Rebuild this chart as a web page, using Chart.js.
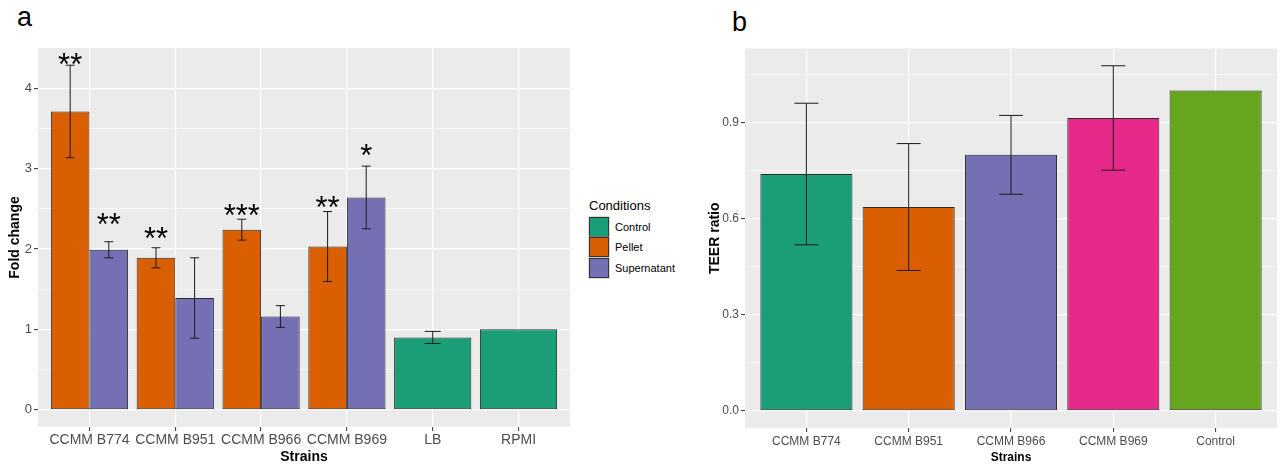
<!DOCTYPE html>
<html>
<head>
<meta charset="utf-8">
<script src="https://cdn.jsdelivr.net/npm/chart.js@4.4.1/dist/chart.umd.min.js"></script>
<style>
  body { margin: 0; background: #fff; }
  #wrap { position: relative; width: 1284px; height: 466px; font-family: "Liberation Sans", Arial, sans-serif; }
  .tag { position: absolute; font-size: 27px; line-height: 27px; color: #000; }
  #chartA { position: absolute; left: 0; top: 0; }
  #chartB { position: absolute; left: 700px; top: 0; }
  #legend { position: absolute; left: 589px; top: 199px; color: #000; }
  #legend .title { font-size: 13px; line-height: 13px; margin-bottom: 5px; }
  #legend .row { display: flex; align-items: center; height: 20.3px; }
  #legend .key { width: 18px; height: 18px; border: 1px solid #333; box-shadow: 0 0 0 0.5px #bbb; }
  #legend .lab { font-size: 11px; margin-left: 6px; }
</style>
</head>
<body>
<div id="wrap">
  <div class="tag" style="left:17px; top:4px;">a</div>
  <div class="tag" style="left:732px; top:9px;">b</div>
  <canvas id="chartA" width="580" height="466"></canvas>
  <div id="legend"></div>
  <canvas id="chartB" width="584" height="466"></canvas>
</div>
<script>
// panel a: fold change per strain
const strainsA = ['CCMM B774', 'CCMM B951', 'CCMM B966', 'CCMM B969', 'LB', 'RPMI'];
const pelletFold = [3.71, 1.89, 2.24, 2.03, null, null];
const pelletErr = [0.575, 0.125, 0.13, 0.435, null, null];
const supFold = [1.99, 1.39, 1.16, 2.64, null, null];
const supErr = [0.10, 0.50, 0.135, 0.39, null, null];
const controlFold = [null, null, null, null, 0.90, 1.00];
const controlErr = [null, null, null, null, 0.075, 0];
const pelletStars = ['**', '**', '***', '**', '', ''];
const pelletStarAt = [4.38, 2.22, 2.51, 2.61, null, null];
const supStars = ['**', '', '', '*', '', ''];
const supStarAt = [2.39, null, null, 3.25, null, null];
const foldTicks = [0, 1, 2, 3, 4];

const conditions = ['Control', 'Pellet', 'Supernatant'];
const conditionColors = ['#1B9E77', '#D95F02', '#7570B3'];

// panel b: TEER ratio
const strainsB = ['CCMM B774', 'CCMM B951', 'CCMM B966', 'CCMM B969', 'Control'];
const teerRatio = [0.739, 0.636, 0.799, 0.914, 1.0];
const teerErr = [0.221, 0.198, 0.123, 0.163, 0];
const teerColors = ['#1B9E77', '#D95F02', '#7570B3', '#E7298A', '#66A61E'];
const teerTicks = [0, 0.3, 0.6, 0.9];

Chart.defaults.font.family = '"Liberation Sans", Arial, sans-serif';

// grey panel like ggplot
const ggBackground = {
  id: 'ggBackground',
  beforeDraw(chart) {
    const { ctx, chartArea: a } = chart;
    ctx.save();
    ctx.fillStyle = '#EBEBEB';
    ctx.fillRect(a.left, a.top, a.right - a.left, a.bottom - a.top);
    ctx.restore();
  }
};

const errorBars = {
  id: 'errorBars',
  afterDatasetsDraw(chart, args, opts) {
    const { ctx } = chart;
    const y = chart.scales.y;
    chart.data.datasets.forEach((ds, i) => {
      if (!ds.errors) return;
      chart.getDatasetMeta(i).data.forEach((bar, j) => {
        const v = ds.data[j].y, e = ds.errors[j];
        if (v == null || !e) return;
        const hi = y.getPixelForValue(v + e);
        const lo = y.getPixelForValue(v - e);
        const half = Math.min(bar.width * opts.cap, opts.maxCap) / 2;
        ctx.save();
        ctx.strokeStyle = '#1a1a1a';
        ctx.lineWidth = 1;
        ctx.beginPath();
        ctx.moveTo(bar.x, hi); ctx.lineTo(bar.x, lo);
        ctx.moveTo(bar.x - half, hi); ctx.lineTo(bar.x + half, hi);
        ctx.moveTo(bar.x - half, lo); ctx.lineTo(bar.x + half, lo);
        ctx.stroke();
        ctx.restore();
      });
    });
  }
};

const starLabels = {
  id: 'starLabels',
  afterDatasetsDraw(chart) {
    const { ctx } = chart;
    const y = chart.scales.y;
    const size = 31;
    chart.data.datasets.forEach((ds, i) => {
      if (!ds.stars) return;
      chart.getDatasetMeta(i).data.forEach((bar, j) => {
        if (!ds.stars[j]) return;
        ctx.save();
        ctx.fillStyle = '#000';
        ctx.font = size + 'px "Liberation Sans", Arial, sans-serif';
        ctx.textAlign = 'center';
        ctx.textBaseline = 'alphabetic';
        ctx.fillText(ds.stars[j], bar.x, y.getPixelForValue(ds.starAt[j]) + size * 0.57);
        ctx.restore();
      });
    });
  }
};

// major ticks plus the half-way minor ones, clipped to range
function withMinor(major, lo, hi) {
  const step = major[1] - major[0];
  const out = [];
  major.forEach(m => { out.push(m); out.push(m + step / 2); });
  out.push(major[0] - step / 2);
  return out.filter(v => v >= lo && v <= hi).sort((a, b) => a - b);
}

function padRange(maxVal) {
  const pad = maxVal * 0.05;
  return [-pad, maxVal + pad];
}

function xyData(values) {
  return values.map((v, i) => ({ x: i, y: v }));
}

function axisOpts(cats, majors, yRange, cfg) {
  return {
    x: {
      type: 'linear',
      offset: false,
      min: -0.6,
      max: cats.length - 0.4,
      afterBuildTicks: s => { s.ticks = cats.map((c, i) => ({ value: i })); },
      afterFit: s => { s.height = cfg.xHeight; },
      border: { display: false },
      grid: { offset: false, color: '#fff', lineWidth: 1.2, tickColor: '#333', tickLength: 4, tickWidth: 1 },
      ticks: {
        autoSkip: false, maxRotation: 0, minRotation: 0, padding: cfg.xPad,
        color: '#4D4D4D', font: { size: cfg.xFont },
        callback: v => cats[v] ?? ''
      },
      title: {
        display: true, text: 'Strains', color: '#000',
        font: { size: cfg.xTitle, weight: 'bold' }, padding: { top: 0, bottom: cfg.xTitlePad }
      }
    },
    y: {
      min: yRange[0],
      max: yRange[1],
      afterBuildTicks: s => { s.ticks = withMinor(majors, yRange[0], yRange[1]).map(v => ({ value: v })); },
      afterFit: s => { s.width = cfg.yWidth; },
      border: { display: false },
      grid: {
        color: '#fff',
        lineWidth: c => majors.includes(c.tick && c.tick.value) ? 1.2 : 0.6,
        tickColor: c => majors.includes(c.tick && c.tick.value) ? '#333' : 'rgba(0,0,0,0)',
        tickLength: 4, tickWidth: 1
      },
      ticks: {
        padding: 2, color: '#4D4D4D', font: { size: cfg.yFont },
        callback: v => majors.includes(v) ? cfg.fmt(v) : ''
      },
      title: {
        display: true, text: cfg.yTitle, color: '#000',
        font: { size: 14, weight: 'bold' }, padding: { top: cfg.yTitlePad, bottom: 0 }
      }
    }
  };
}

const barStyle = { borderColor: '#2b2b2b', borderWidth: 1, borderSkipped: false, skipNull: true,
  categoryPercentage: 0.9, barPercentage: 1 };

const maxA = Math.max(...pelletFold.map((v, i) => v == null ? 0 : v + pelletErr[i]),
  ...supFold.map((v, i) => v == null ? 0 : v + supErr[i]));

new Chart(document.getElementById('chartA'), {
  type: 'bar',
  data: {
    datasets: [
      Object.assign({ label: 'Pellet', data: xyData(pelletFold), errors: pelletErr,
        stars: pelletStars, starAt: pelletStarAt, backgroundColor: conditionColors[1] }, barStyle),
      Object.assign({ label: 'Supernatant', data: xyData(supFold), errors: supErr,
        stars: supStars, starAt: supStarAt, backgroundColor: conditionColors[2] }, barStyle),
      Object.assign({ label: 'Control', data: xyData(controlFold), errors: controlErr,
        backgroundColor: conditionColors[0] }, barStyle)
    ]
  },
  options: {
    responsive: false,
    animation: false,
    layout: { padding: { top: 48, right: 10, left: 0, bottom: 0 } },
    plugins: {
      legend: { display: false },
      tooltip: { enabled: false },
      errorBars: { cap: 0.23, maxCap: 16 }
    },
    scales: axisOpts(strainsA, foldTicks, padRange(maxA), {
      xHeight: 39, xPad: 1, xFont: 14, xTitle: 14, xTitlePad: 0,
      yWidth: 38, yFont: 13, yTitle: 'Fold change', yTitlePad: 6.5, fmt: v => String(v)
    })
  },
  plugins: [ggBackground, errorBars, starLabels]
});

const maxB = Math.max(...teerRatio.map((v, i) => v + teerErr[i]));

new Chart(document.getElementById('chartB'), {
  type: 'bar',
  data: {
    datasets: [
      Object.assign({ label: 'TEER ratio', data: xyData(teerRatio), errors: teerErr,
        backgroundColor: teerColors }, barStyle)
    ]
  },
  options: {
    responsive: false,
    animation: false,
    layout: { padding: { top: 48.5, right: 7, left: 0, bottom: 0 } },
    plugins: {
      legend: { display: false },
      tooltip: { enabled: false },
      errorBars: { cap: 0.26, maxCap: 40 }
    },
    scales: axisOpts(strainsB, teerTicks, padRange(maxB), {
      xHeight: 38, xPad: 2, xFont: 12, xTitle: 12, xTitlePad: 1,
      yWidth: 45, yFont: 12, yTitle: 'TEER ratio', yTitlePad: 7, fmt: v => v.toFixed(1)
    })
  },
  plugins: [ggBackground, errorBars]
});

// legend for panel a
const legend = document.getElementById('legend');
legend.innerHTML = '<div class="title">Conditions</div>' + conditions.map((c, i) =>
  '<div class="row"><div class="key" style="background:' + conditionColors[i] + '"></div>' +
  '<span class="lab">' + c + '</span></div>').join('');
</script>
</body>
</html>
